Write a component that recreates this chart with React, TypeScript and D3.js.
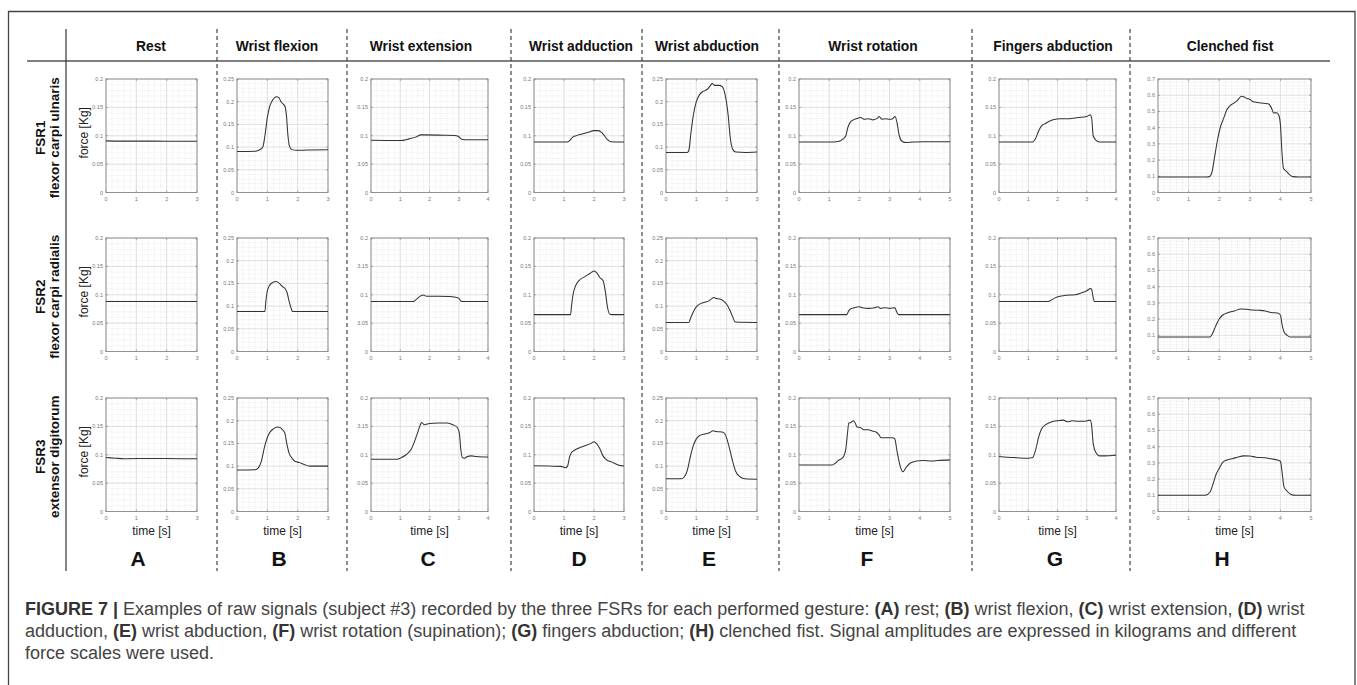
import React from "react";
import * as d3 from "d3";

// ---------- DATA ----------
const gestures = ["Rest", "Wrist flexion", "Wrist extension", "Wrist adduction", "Wrist abduction", "Wrist rotation", "Fingers abduction", "Clenched fist"];
const panelLetters = ["A", "B", "C", "D", "E", "F", "G", "H"];
const sensors = ["FSR1", "FSR2", "FSR3"];
const muscles = ["flexor carpi ulnaris", "flexor carpi radialis", "extensor digitorum"];
const durations = [3, 3, 4, 3, 3, 5, 4, 5];
const yMaxes = [0.2, 0.25, 0.2, 0.2, 0.25, 0.2, 0.2, 0.7];
const yTickSteps = [0.05, 0.05, 0.05, 0.05, 0.05, 0.05, 0.05, 0.1];
const yTicks02 = ["0", "0.05", "0.1", "0.15", "0.2"];
const yTicks025 = ["0", "0.05", "0.1", "0.15", "0.2", "0.25"];
const yTicks07 = ["0", "0.1", "0.2", "0.3", "0.4", "0.5", "0.6", "0.7"];
const yTicksExt1 = ["0", "3.05", "0.1", "0.15", "0.2"];
const yTicksExt2 = ["0", "3.05", "0.1", "3.15", "0.2"];
const yTicksExt3 = ["0", "0.05", "0.1", "3.15", "0.2"];

// FSR1 — flexor carpi ulnaris
const rest1 = [[0, 0.091], [0.5, 0.0905], [1.5, 0.0905], [2.5, 0.0903], [3, 0.0903]];
const flex1 = [[0, 0.0905], [0.6, 0.091], [0.75, 0.094], [0.85, 0.1], [0.92, 0.125], [1.0, 0.165], [1.08, 0.19], [1.17, 0.203], [1.3, 0.211], [1.38, 0.209], [1.45, 0.2], [1.52, 0.195], [1.58, 0.19], [1.63, 0.17], [1.68, 0.125], [1.73, 0.102], [1.8, 0.095], [1.95, 0.093], [2.3, 0.0935], [3, 0.094]];
const ext1 = [[0, 0.092], [1.0, 0.0915], [1.3, 0.0945], [1.55, 0.098], [1.7, 0.1015], [1.8, 0.1015], [2.5, 0.101], [2.85, 0.1005], [2.98, 0.099], [3.1, 0.094], [3.3, 0.093], [4, 0.093]];
const add1 = [[0, 0.089], [1.1, 0.089], [1.18, 0.091], [1.28, 0.097], [1.4, 0.1], [1.6, 0.103], [1.8, 0.106], [2.0, 0.109], [2.15, 0.109], [2.25, 0.106], [2.35, 0.1], [2.45, 0.093], [2.55, 0.0895], [3, 0.089]];
const abd1 = [[0, 0.088], [0.7, 0.088], [0.75, 0.092], [0.82, 0.13], [0.9, 0.17], [1.0, 0.2], [1.1, 0.215], [1.2, 0.222], [1.3, 0.225], [1.4, 0.23], [1.48, 0.237], [1.52, 0.24], [1.6, 0.236], [1.75, 0.236], [1.85, 0.233], [1.95, 0.215], [2.05, 0.17], [2.12, 0.12], [2.2, 0.095], [2.3, 0.089], [2.6, 0.088], [3, 0.089]];
const rot1 = [[0, 0.089], [1.0, 0.089], [1.3, 0.09], [1.45, 0.094], [1.55, 0.1], [1.62, 0.115], [1.7, 0.124], [1.8, 0.128], [1.95, 0.131], [2.05, 0.132], [2.15, 0.129], [2.3, 0.13], [2.45, 0.128], [2.6, 0.131], [2.65, 0.134], [2.75, 0.129], [2.85, 0.13], [3.0, 0.129], [3.1, 0.13], [3.18, 0.134], [3.25, 0.122], [3.32, 0.1], [3.42, 0.09], [3.55, 0.088], [3.8, 0.089], [4.2, 0.0895], [5, 0.0895]];
const fing1 = [[0, 0.089], [1.15, 0.089], [1.25, 0.095], [1.35, 0.108], [1.45, 0.117], [1.6, 0.122], [1.85, 0.128], [2.1, 0.13], [2.4, 0.13], [2.7, 0.132], [3.0, 0.134], [3.12, 0.137], [3.17, 0.13], [3.22, 0.1], [3.32, 0.092], [3.45, 0.089], [4, 0.089]];
const fist1 = [[0, 0.095], [1.6, 0.095], [1.7, 0.1], [1.77, 0.13], [1.85, 0.22], [1.95, 0.33], [2.05, 0.41], [2.15, 0.46], [2.25, 0.51], [2.35, 0.535], [2.45, 0.548], [2.55, 0.56], [2.65, 0.58], [2.72, 0.594], [2.8, 0.59], [2.9, 0.58], [3.0, 0.575], [3.1, 0.56], [3.25, 0.555], [3.45, 0.55], [3.6, 0.548], [3.7, 0.525], [3.78, 0.49], [3.88, 0.492], [3.95, 0.475], [4.0, 0.42], [4.05, 0.25], [4.1, 0.15], [4.2, 0.13], [4.3, 0.11], [4.4, 0.098], [4.6, 0.095], [5, 0.096]];

// FSR2 — flexor carpi radialis
const rest2 = [[0, 0.088], [1, 0.088], [2, 0.088], [3, 0.088]];
const flex2 = [[0, 0.088], [0.92, 0.088], [0.95, 0.11], [0.99, 0.13], [1.05, 0.143], [1.15, 0.151], [1.3, 0.154], [1.4, 0.15], [1.5, 0.143], [1.58, 0.139], [1.65, 0.13], [1.72, 0.11], [1.8, 0.092], [1.83, 0.088], [3, 0.088]];
const ext2 = [[0, 0.088], [1.45, 0.088], [1.55, 0.092], [1.7, 0.098], [1.78, 0.0995], [1.9, 0.0975], [2.3, 0.0975], [2.7, 0.097], [2.85, 0.096], [3.0, 0.094], [3.07, 0.089], [3.15, 0.088], [4, 0.088]];
const add2 = [[0, 0.065], [1.22, 0.065], [1.25, 0.08], [1.3, 0.1], [1.38, 0.115], [1.5, 0.125], [1.7, 0.132], [1.85, 0.137], [2.0, 0.142], [2.1, 0.138], [2.2, 0.13], [2.3, 0.125], [2.38, 0.105], [2.45, 0.078], [2.52, 0.066], [2.6, 0.065], [3, 0.065]];
const abd2 = [[0, 0.064], [0.75, 0.064], [0.82, 0.075], [0.92, 0.09], [1.02, 0.1], [1.15, 0.106], [1.3, 0.109], [1.4, 0.111], [1.5, 0.116], [1.57, 0.119], [1.65, 0.117], [1.8, 0.115], [1.9, 0.111], [2.0, 0.104], [2.1, 0.092], [2.2, 0.076], [2.28, 0.065], [3, 0.064]];
const rot2 = [[0, 0.065], [1.58, 0.065], [1.65, 0.072], [1.75, 0.076], [1.9, 0.078], [2.0, 0.079], [2.1, 0.077], [2.3, 0.076], [2.5, 0.077], [2.62, 0.079], [2.7, 0.076], [2.85, 0.077], [3.0, 0.076], [3.18, 0.077], [3.23, 0.07], [3.3, 0.065], [5, 0.065]];
const fing2 = [[0, 0.088], [1.68, 0.088], [1.8, 0.091], [1.9, 0.094], [2.05, 0.097], [2.3, 0.099], [2.6, 0.1], [2.8, 0.103], [3.0, 0.107], [3.13, 0.111], [3.17, 0.109], [3.22, 0.095], [3.26, 0.088], [4, 0.088]];
const fist2 = [[0, 0.09], [1.7, 0.09], [1.78, 0.11], [1.88, 0.155], [2.0, 0.2], [2.1, 0.222], [2.3, 0.24], [2.5, 0.25], [2.7, 0.262], [2.9, 0.26], [3.1, 0.256], [3.3, 0.254], [3.5, 0.25], [3.7, 0.24], [3.9, 0.237], [4.0, 0.225], [4.05, 0.17], [4.12, 0.12], [4.22, 0.1], [4.32, 0.09], [5, 0.09]];

// FSR3 — extensor digitorum
const rest3 = [[0, 0.095], [0.3, 0.094], [0.6, 0.093], [1.5, 0.0935], [2.5, 0.093], [3, 0.093]];
const flex3 = [[0, 0.0915], [0.6, 0.092], [0.7, 0.096], [0.8, 0.11], [0.9, 0.14], [1.0, 0.163], [1.1, 0.176], [1.2, 0.182], [1.32, 0.186], [1.42, 0.185], [1.5, 0.18], [1.58, 0.172], [1.64, 0.15], [1.72, 0.128], [1.82, 0.117], [1.92, 0.11], [2.05, 0.108], [2.2, 0.104], [2.4, 0.1], [3, 0.1]];
const ext3 = [[0, 0.092], [0.9, 0.092], [1.0, 0.094], [1.2, 0.1], [1.38, 0.11], [1.5, 0.125], [1.6, 0.14], [1.68, 0.152], [1.73, 0.157], [1.82, 0.153], [2.0, 0.155], [2.3, 0.156], [2.6, 0.156], [2.8, 0.153], [2.95, 0.148], [3.02, 0.138], [3.07, 0.11], [3.12, 0.095], [3.2, 0.094], [3.3, 0.097], [3.42, 0.098], [3.6, 0.097], [4, 0.096]];
const add3 = [[0, 0.0805], [0.5, 0.08], [0.9, 0.0795], [1.05, 0.077], [1.12, 0.08], [1.18, 0.095], [1.25, 0.104], [1.35, 0.108], [1.5, 0.112], [1.7, 0.116], [1.9, 0.12], [2.0, 0.123], [2.08, 0.12], [2.2, 0.11], [2.3, 0.098], [2.42, 0.091], [2.6, 0.087], [2.8, 0.082], [3, 0.08]];
const abd3 = [[0, 0.072], [0.5, 0.072], [0.6, 0.076], [0.7, 0.09], [0.8, 0.12], [0.9, 0.145], [1.0, 0.16], [1.1, 0.167], [1.3, 0.171], [1.45, 0.174], [1.55, 0.178], [1.65, 0.176], [1.85, 0.175], [1.95, 0.17], [2.05, 0.15], [2.2, 0.11], [2.3, 0.088], [2.45, 0.076], [2.6, 0.072], [3, 0.071]];
const rot3 = [[0, 0.082], [1.1, 0.082], [1.2, 0.085], [1.3, 0.09], [1.45, 0.095], [1.55, 0.11], [1.6, 0.135], [1.65, 0.156], [1.72, 0.157], [1.8, 0.16], [1.86, 0.156], [1.92, 0.149], [2.03, 0.148], [2.15, 0.144], [2.3, 0.144], [2.42, 0.142], [2.55, 0.14], [2.65, 0.135], [2.72, 0.13], [2.9, 0.13], [3.1, 0.13], [3.17, 0.128], [3.25, 0.105], [3.35, 0.08], [3.44, 0.07], [3.55, 0.078], [3.7, 0.086], [3.9, 0.089], [4.1, 0.09], [4.4, 0.089], [4.6, 0.09], [5, 0.091]];
const fing3 = [[0, 0.097], [0.5, 0.095], [1.0, 0.094], [1.15, 0.095], [1.25, 0.108], [1.35, 0.13], [1.45, 0.145], [1.6, 0.153], [1.8, 0.158], [2.0, 0.16], [2.2, 0.161], [2.35, 0.158], [2.5, 0.16], [2.7, 0.159], [2.9, 0.159], [3.12, 0.161], [3.17, 0.15], [3.22, 0.12], [3.3, 0.105], [3.45, 0.098], [3.6, 0.098], [4, 0.099]];
const fist3 = [[0, 0.1], [1.55, 0.1], [1.7, 0.12], [1.8, 0.17], [1.9, 0.23], [2.0, 0.265], [2.1, 0.3], [2.25, 0.318], [2.45, 0.327], [2.6, 0.335], [2.8, 0.343], [3.0, 0.342], [3.2, 0.335], [3.5, 0.332], [3.7, 0.325], [3.9, 0.318], [4.0, 0.31], [4.05, 0.25], [4.12, 0.15], [4.22, 0.125], [4.35, 0.105], [4.5, 0.1], [5, 0.1]];

const signals = [
  [rest1, flex1, ext1, add1, abd1, rot1, fing1, fist1],
  [rest2, flex2, ext2, add2, abd2, rot2, fing2, fist2],
  [rest3, flex3, ext3, add3, abd3, rot3, fing3, fist3],
];
const yTickLabels = [
  [yTicks02, yTicks025, yTicksExt1, yTicks02, yTicks025, yTicks02, yTicks02, yTicks07],
  [yTicks02, yTicks025, yTicksExt2, yTicks02, yTicks025, yTicks02, yTicks02, yTicks07],
  [yTicks02, yTicks025, yTicksExt3, yTicks02, yTicks025, yTicks02, yTicks02, yTicks07],
];

const captionLines = [
  "**FIGURE 7 |** Examples of raw signals (subject #3) recorded by the three FSRs for each performed gesture: **(A)** rest; **(B)** wrist flexion, **(C)** wrist extension, **(D)** wrist",
  "adduction, **(E)** wrist abduction, **(F)** wrist rotation (supination); **(G)** fingers abduction; **(H)** clenched fist. Signal amplitudes are expressed in kilograms and different",
  "force scales were used.",
];

// ---------- LAYOUT ----------
const W = 1357, H = 685;
const plotX = [106, 237, 371, 534, 666, 799, 999, 1158];
const plotW = [91, 91, 117, 90, 91, 151, 117, 153];
const plotY = [79, 238, 398];
const plotH = 113.5;
const headerX = [151, 277, 421, 581, 707, 873, 1053, 1230];
const letterX = [138, 279, 428, 579, 709, 867, 1055, 1222];
const dashX = [217, 347, 511, 642, 779, 972, 1130];
const FONT = "'Liberation Sans', Arial, Helvetica, sans-serif";

function parseRich(s: string) {
  const parts = s.split("**");
  return parts.map((p, i) => ({ text: p, bold: i % 2 === 1 })).filter((p) => p.text.length > 0);
}

function Panel({ r, c }: { r: number; c: number }) {
  const x0 = plotX[c], w = plotW[c], y0 = plotY[r];
  const dur = durations[c], ymax = yMaxes[c], step = yTickSteps[c];
  const x = d3.scaleLinear().domain([0, dur]).range([x0, x0 + w]);
  const y = d3.scaleLinear().domain([0, ymax]).range([y0 + plotH, y0]);
  const xMinor = d3.range(0, dur + 1e-9, 0.2);
  const xMajor = d3.range(0, dur + 1e-9, 1);
  const yMinor = d3.range(0, ymax + 1e-9, step / 5);
  const yMajor = d3.range(0, ymax + 1e-9, step);
  const line = d3.line<number[]>().x((d) => x(d[0])).y((d) => y(d[1])).curve(d3.curveMonotoneX);
  const labels = yTickLabels[r][c];
  return (
    <g>
      <rect x={x0} y={y0} width={w} height={plotH} fill="#fff" />
      {xMinor.map((t, i) => (
        <line key={"xm" + i} x1={x(t)} x2={x(t)} y1={y0} y2={y0 + plotH} stroke="#d6d6d6" strokeWidth={0.5} strokeDasharray="0.8,1" />
      ))}
      {yMinor.map((v, i) => (
        <line key={"ym" + i} x1={x0} x2={x0 + w} y1={y(v)} y2={y(v)} stroke="#d6d6d6" strokeWidth={0.5} strokeDasharray="0.8,1" />
      ))}
      {xMajor.map((t, i) => (
        <line key={"xM" + i} x1={x(t)} x2={x(t)} y1={y0} y2={y0 + plotH} stroke="#d9d9d9" strokeWidth={0.7} />
      ))}
      {yMajor.map((v, i) => (
        <line key={"yM" + i} x1={x0} x2={x0 + w} y1={y(v)} y2={y(v)} stroke="#d9d9d9" strokeWidth={0.7} />
      ))}
      {xMajor.map((t, i) => (
        <g key={"xt" + i}>
          <line x1={x(t)} x2={x(t)} y1={y0 + plotH} y2={y0 + plotH - 2} stroke="#777" strokeWidth={0.6} />
          <line x1={x(t)} x2={x(t)} y1={y0} y2={y0 + 2} stroke="#777" strokeWidth={0.6} />
          <text x={x(t)} y={y0 + plotH + 8} fontSize={5.5} fill="#777" textAnchor="middle" fontFamily={FONT}>{String(t)}</text>
        </g>
      ))}
      {yMajor.map((v, i) => (
        <g key={"yt" + i}>
          <line x1={x0} x2={x0 + 2} y1={y(v)} y2={y(v)} stroke="#777" strokeWidth={0.6} />
          <line x1={x0 + w} x2={x0 + w - 2} y1={y(v)} y2={y(v)} stroke="#777" strokeWidth={0.6} />
          <text x={x0 - 3} y={y(v) + 2} fontSize={5.5} fill="#777" textAnchor="end" fontFamily={FONT}>{labels[i]}</text>
        </g>
      ))}
      <rect x={x0} y={y0} width={w} height={plotH} fill="none" stroke="#8a8a8a" strokeWidth={0.9} />
      <path d={line(signals[r][c] as number[][]) || ""} fill="none" stroke="#333" strokeWidth={1.05} strokeLinejoin="round" />
    </g>
  );
}

export default function App() {
  return (
    <svg width={W} height={H} style={{ position: "absolute", left: 0, top: 0, background: "#fff" }} fontFamily={FONT}>
      <rect x={0} y={0} width={W} height={H} fill="#fff" />
      {/* outer frame */}
      <path d={`M8.5,${H + 5} L8.5,11.5 L1355,11.5 L1355,${H + 5}`} fill="none" stroke="#444" strokeWidth={1.3} />
      {/* table lines */}
      <line x1={27} x2={1330} y1={61} y2={61} stroke="#555" strokeWidth={1.4} />
      <line x1={66} x2={66} y1={29} y2={571} stroke="#333" strokeWidth={1.2} />
      {dashX.map((dx, i) => (
        <line key={"d" + i} x1={dx} x2={dx} y1={29} y2={571} stroke="#333" strokeWidth={1.1} strokeDasharray="4,3" />
      ))}
      {/* headers */}
      {gestures.map((g, i) => (
        <text key={"h" + i} x={headerX[i]} y={50.5} fontSize={13.8} fontWeight="bold" textAnchor="middle" fill="#111">{g}</text>
      ))}
      {/* row labels */}
      {sensors.map((s, r) => {
        const cy = plotY[r] + plotH / 2 + 2;
        return (
          <g key={"r" + r}>
            <text transform={`translate(45,${cy}) rotate(-90)`} fontSize={13.5} fontWeight="bold" textAnchor="middle" fill="#111">{s}</text>
            <text transform={`translate(58.5,${cy}) rotate(-90)`} fontSize={13.5} fontWeight="bold" textAnchor="middle" fill="#111">{muscles[r]}</text>
            <text transform={`translate(88,${plotY[r] + plotH / 2 - 3}) rotate(-90)`} fontSize={12} textAnchor="middle" fill="#222">force [Kg]</text>
          </g>
        );
      })}
      {/* panels */}
      {sensors.map((_, r) => gestures.map((__, c) => <Panel key={`p${r}-${c}`} r={r} c={c} />))}
      {/* x-axis labels */}
      {gestures.map((_, c) => (
        <text key={"xl" + c} x={plotX[c] + plotW[c] / 2} y={534.5} fontSize={12} textAnchor="middle" fill="#222">time [s]</text>
      ))}
      {/* panel letters */}
      {panelLetters.map((l, c) => (
        <text key={"l" + c} x={letterX[c]} y={566} fontSize={21} fontWeight="bold" textAnchor="middle" fill="#111">{l}</text>
      ))}
      {/* caption */}
      {captionLines.map((ln, i) => (
        <text key={"c" + i} x={25} y={615 + i * 22} fontSize={18} fill="#444">
          {parseRich(ln).map((p, j) => (
            <tspan key={j} fontWeight={p.bold ? "bold" : "normal"} fill={p.bold ? "#333" : "#444"}>{p.text}</tspan>
          ))}
        </text>
      ))}
    </svg>
  );
}
